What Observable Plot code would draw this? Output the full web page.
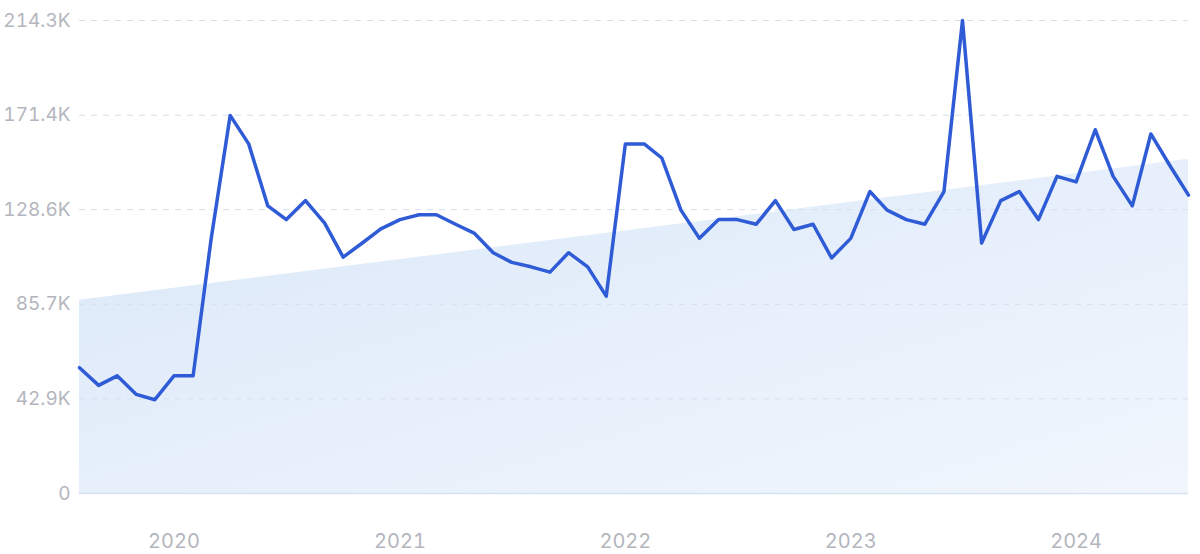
<!DOCTYPE html>
<html>
<head>
<meta charset="utf-8">
<script src="https://cdn.jsdelivr.net/npm/d3@7"></script>
<script src="https://cdn.jsdelivr.net/npm/@observablehq/plot@0.6"></script>
<style>
  html, body { margin: 0; padding: 0; background: #ffffff; }
  #chart { width: 1200px; height: 554px; }
</style>
</head>
<body>
<div id="chart"></div>
<script>
const months = [
  "2019-08","2019-09","2019-10","2019-11","2019-12",
  "2020-01","2020-02","2020-03","2020-04","2020-05","2020-06","2020-07","2020-08","2020-09","2020-10","2020-11","2020-12",
  "2021-01","2021-02","2021-03","2021-04","2021-05","2021-06","2021-07","2021-08","2021-09","2021-10","2021-11","2021-12",
  "2022-01","2022-02","2022-03","2022-04","2022-05","2022-06","2022-07","2022-08","2022-09","2022-10","2022-11","2022-12",
  "2023-01","2023-02","2023-03","2023-04","2023-05","2023-06","2023-07","2023-08","2023-09","2023-10","2023-11","2023-12",
  "2024-01","2024-02","2024-03","2024-04","2024-05","2024-06","2024-07"
];
const values = [
  57.0, 49.0, 53.3, 44.9, 42.5,
  53.3, 53.3, 115.0, 171.3, 158.4, 130.3, 124.1, 132.7, 122.5, 107.1, 113.5, 119.9,
  124.1, 126.3, 126.3, 122.0, 118.0, 109.1, 104.7, 102.7, 100.3, 109.1, 102.7, 89.4,
  158.4, 158.3, 152.0, 128.4, 115.6, 124.1, 124.1, 122.0, 132.7, 119.6, 122.0, 106.7,
  115.6, 136.8, 128.4, 124.1, 122.0, 136.8, 214.3, 113.5, 132.7, 136.8, 124.1, 143.7,
  141.2, 164.8, 143.7, 130.3, 162.9, 148.5, 135.2
].map(v => v * 1000);
const trendMonths = ["2019-08", "2024-07"];
const trendValues = [87.5, 151.4].map(v => v * 1000);
const yTicks = [0, 42900, 85700, 128600, 171400, 214300];
const yTickLabels = ["0", "42.9K", "85.7K", "128.6K", "171.4K", "214.3K"];
const xTicks = ["2020-01", "2021-01", "2022-01", "2023-01", "2024-01"];
const xTickLabels = ["2020", "2021", "2022", "2023", "2024"];

const parse = d3.utcParse("%Y-%m");
const series = months.map((m, i) => ({date: parse(m), value: values[i]}));
const trend = trendMonths.map((m, i) => ({date: parse(m), value: trendValues[i]}));
const xTickDates = xTicks.map(parse);
const yLabelMap = new Map(yTicks.map((t, i) => [t, yTickLabels[i]]));
const xLabelMap = new Map(xTickDates.map((d, i) => [+d, xTickLabels[i]]));

const defs = () => {
  const g = d3.create("svg:defs");
  const lg = g.append("linearGradient").attr("id", "trendGrad")
    .attr("x1", "0").attr("y1", "0").attr("x2", "1").attr("y2", "1");
  lg.append("stop").attr("offset", "0%").attr("stop-color", "#dbe8f9");
  lg.append("stop").attr("offset", "100%").attr("stop-color", "#f1f6fd");
  return g.node();
};

const chart = Plot.plot({
  width: 1200,
  height: 554,
  marginLeft: 79,
  marginRight: 12,
  marginTop: 20,
  marginBottom: 61,
  style: {fontFamily: "Inter, 'Noto Sans', sans-serif", background: "#ffffff", overflow: "visible"},
  x: {type: "utc", domain: [series[0].date, series[series.length - 1].date], label: null},
  y: {domain: [0, 214300], label: null},
  marks: [
    defs,
    Plot.areaY(trend, {x: "date", y: "value", fill: "url(#trendGrad)"}),
    Plot.gridY(yTicks.filter(t => t > 0), {stroke: "#d6e0ee", strokeOpacity: 1, strokeWidth: 1, strokeDasharray: "6,6"}),
    Plot.ruleY([0], {stroke: "#d5e2f2", strokeWidth: 1.5}),
    Plot.axisY({ticks: yTicks, tickSize: 0, tickPadding: 9, tickFormat: d => yLabelMap.get(d), fontSize: 19, fill: "#b4b6be", label: null}),
    Plot.axisX({ticks: xTickDates, tickSize: 0, tickPadding: 40, tickFormat: d => xLabelMap.get(+d), fontSize: 20, fill: "#b4b6be", label: null}),
    Plot.lineY(series, {x: "date", y: "value", stroke: "#2f5cd6", strokeWidth: 3.5, strokeLinejoin: "round", strokeLinecap: "round"})
  ]
});
document.getElementById("chart").appendChild(chart);
</script>
</body>
</html>
